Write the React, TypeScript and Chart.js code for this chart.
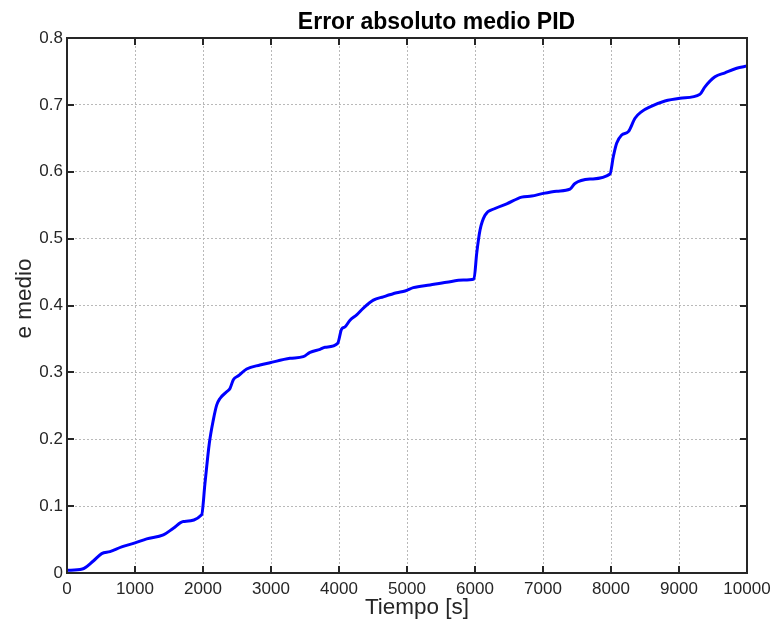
import React, { useEffect, useRef } from "react";
import { Chart, registerables } from "chart.js";

Chart.register(...registerables);

const chartTitle = "Error absoluto medio PID";
const xAxisTitle = "Tiempo [s]";
const yAxisTitle = "e medio";

const xTicks = [0, 1000, 2000, 3000, 4000, 5000, 6000, 7000, 8000, 9000, 10000];
const yTicks = [0, 0.1, 0.2, 0.3, 0.4, 0.5, 0.6, 0.7, 0.8];

const times = [
  0, 225, 387, 510, 632, 804, 1000, 1172, 1417, 1564, 1711, 1980, 2029, 2093,
  2152, 2201, 2250, 2348, 2397, 2446, 2520, 2642, 2838, 2985, 3279, 3475, 3574,
  3721, 3794, 3980, 4039, 4088, 4162, 4260, 4358, 4505, 4652, 4848, 4971, 5093,
  5338, 5583, 5828, 5985, 6025, 6074, 6147, 6294, 6466, 6686, 6833, 7005, 7201,
  7397, 7470, 7691, 7985, 8034, 8083, 8157, 8255, 8353, 8451, 8574, 8794, 9015,
  9309, 9382, 9529, 9676, 9848, 10000,
];

const eMedio = [
  0.004, 0.006, 0.018, 0.029, 0.032, 0.039, 0.045, 0.051, 0.057, 0.067, 0.077,
  0.087, 0.134, 0.194, 0.229, 0.251, 0.261, 0.271, 0.276, 0.289, 0.295, 0.305,
  0.311, 0.3145, 0.321, 0.3235, 0.33, 0.3345, 0.3375, 0.3435, 0.365, 0.368,
  0.378, 0.386, 0.396, 0.408, 0.413, 0.419, 0.4217, 0.4267, 0.4307, 0.4347,
  0.438, 0.4396, 0.478, 0.513, 0.535, 0.545, 0.552, 0.562, 0.5637, 0.5677,
  0.571, 0.574, 0.5825, 0.589, 0.5966, 0.6225, 0.6425, 0.655, 0.66, 0.68, 0.69,
  0.697, 0.7058, 0.71, 0.716, 0.727, 0.742, 0.748, 0.7547, 0.758,
];

const FONT = "'Liberation Sans', Arial, Helvetica, sans-serif";
const AXIS_COLOR = "#262626";

function shiftTitle(scale: any, dx: number, dy: number) {
  if (!scale || scale.__shifted) return;
  const orig = scale.drawTitle.bind(scale);
  scale.drawTitle = function () {
    const ctx = scale.ctx;
    ctx.save();
    ctx.translate(dx, dy);
    orig();
    ctx.restore();
  };
  scale.__shifted = true;
}

const matlabBox = {
  id: "matlabBox",
  afterLayout(chart: any) {
    const tb = chart.titleBlock;
    if (tb) {
      const desired = 436.5;
      const shift = desired - (tb.left + tb.right) / 2;
      tb.left += shift;
      tb.right += shift;
    }
    shiftTitle(chart.scales.x, 10, 0);
    shiftTitle(chart.scales.y, 0, -7);
  },
  afterDatasetsDraw(chart: any) {
    const { ctx, chartArea } = chart;
    const { left, right, top, bottom } = chartArea;
    const xs = chart.scales.x;
    const ys = chart.scales.y;
    const tl = 7;
    ctx.save();
    ctx.strokeStyle = AXIS_COLOR;
    ctx.lineWidth = 2;
    ctx.setLineDash([]);
    ctx.beginPath();
    xs.ticks.forEach((t: any) => {
      const px = Math.round(xs.getPixelForValue(t.value));
      ctx.moveTo(px, bottom);
      ctx.lineTo(px, bottom - tl);
      ctx.moveTo(px, top);
      ctx.lineTo(px, top + tl);
    });
    ys.ticks.forEach((t: any) => {
      const py = Math.round(ys.getPixelForValue(t.value));
      ctx.moveTo(left, py);
      ctx.lineTo(left + tl, py);
      ctx.moveTo(right, py);
      ctx.lineTo(right - tl, py);
    });
    ctx.stroke();
    ctx.strokeRect(left, top, right - left, bottom - top);
    ctx.restore();
  },
};

export default function App() {
  const canvasRef = useRef<HTMLCanvasElement | null>(null);

  useEffect(() => {
    if (!canvasRef.current) return;
    const points = times.map((t, i) => ({ x: t, y: eMedio[i] }));
    const chart = new Chart(canvasRef.current, {
      type: "line",
      data: {
        datasets: [
          {
            label: yAxisTitle,
            data: points,
            borderColor: "#0000ff",
            borderWidth: 3,
            pointRadius: 0,
            cubicInterpolationMode: "monotone",
            fill: false,
          },
        ],
      },
      options: {
        responsive: false,
        animation: false,
        layout: { padding: { left: 0, right: 36, top: 0, bottom: 0 } },
        plugins: {
          legend: { display: false },
          tooltip: { enabled: false },
          title: {
            display: true,
            text: chartTitle,
            color: "#000000",
            font: { family: FONT, size: 23, weight: "bold", lineHeight: 1.2 },
            padding: { top: 9.2, bottom: 1.2 },
          },
        },
        scales: {
          x: {
            type: "linear",
            min: 0,
            max: 10000,
            afterFit: (scale: any) => {
              scale.height = 53;
            },
            afterBuildTicks: (scale: any) => {
              scale.ticks = xTicks.map((v) => ({ value: v }));
            },
            ticks: {
              color: AXIS_COLOR,
              font: { family: FONT, size: 17 },
              padding: 6,
              maxRotation: 0,
              autoSkip: false,
              callback: (v: any) => String(v),
            },
            grid: {
              color: "#b9b9b9",
              lineWidth: 1,
              drawTicks: false,
            },
            border: { display: false, dash: [2, 2] },
            title: {
              display: true,
              text: xAxisTitle,
              color: AXIS_COLOR,
              font: { family: FONT, size: 22.5, lineHeight: 1.2 },
              padding: { top: 0, bottom: 4.5 },
            },
          },
          y: {
            type: "linear",
            min: 0,
            max: 0.8,
            afterFit: (scale: any) => {
              scale.width = 67;
            },
            afterBuildTicks: (scale: any) => {
              scale.ticks = yTicks.map((v) => ({ value: v }));
            },
            ticks: {
              color: AXIS_COLOR,
              font: { family: FONT, size: 17 },
              padding: 4,
              autoSkip: false,
              callback: (v: any) => String(Math.round(Number(v) * 10) / 10),
            },
            grid: {
              color: "#b9b9b9",
              lineWidth: 1,
              drawTicks: false,
            },
            border: { display: false, dash: [2, 2] },
            title: {
              display: true,
              text: yAxisTitle,
              color: AXIS_COLOR,
              font: { family: FONT, size: 22.5, lineHeight: 1.2 },
              padding: { top: 11.5, bottom: 0 },
            },
          },
        },
      },
      plugins: [matlabBox],
    });
    return () => chart.destroy();
  }, []);

  return (
    <div style={{ position: "fixed", left: 0, top: 0, width: 783, height: 626, background: "#ffffff" }}>
      <canvas ref={canvasRef} width={783} height={626} />
    </div>
  );
}
